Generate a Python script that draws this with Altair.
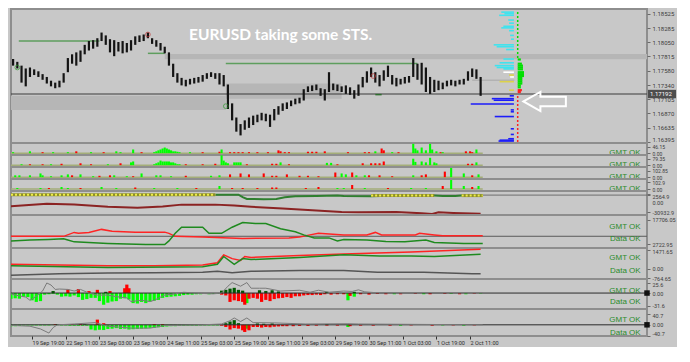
import altair as alt
import pandas as pd

# ======================= DATA =======================
# --- main price panel (2-hour groups of H1 candles, bar index = hour number) ---
candle_bar = list(range(1, 224, 2))
candle_high = [1.17773, 1.17726, 1.17663, 1.17616, 1.17632, 1.17601, 1.17569, 1.17522, 1.17475, 1.17413,
               1.17381, 1.17413, 1.17538, 1.17789, 1.17851, 1.17883, 1.17914, 1.18008, 1.18071, 1.18086,
               1.18118, 1.18212, 1.18165, 1.18102, 1.18086, 1.18055, 1.18071, 1.18039, 1.18086, 1.18149,
               1.18165, 1.18180, 1.18212, 1.18118, 1.18086, 1.18039, 1.17977, 1.17883, 1.17695, 1.17538,
               1.17460, 1.17428, 1.17444, 1.17460, 1.17475, 1.17507, 1.17538, 1.17554, 1.17538, 1.17538,
               1.17507, 1.17350, 1.17037, 1.16802, 1.16693, 1.16755, 1.16802, 1.16833, 1.16849, 1.16880,
               1.16865, 1.16849, 1.16943, 1.16990, 1.17037, 1.17053, 1.17084, 1.17115, 1.17131, 1.17272,
               1.17319, 1.17335, 1.17350, 1.17288, 1.17272, 1.17554, 1.17366, 1.17350, 1.17319, 1.17335,
               1.17303, 1.17256, 1.17350, 1.17475, 1.17569, 1.17632, 1.17554, 1.17507, 1.17585, 1.17663,
               1.17507, 1.17460, 1.17444, 1.17475, 1.17491, 1.17789, 1.17695, 1.17710, 1.17632, 1.17475,
               1.17428, 1.17413, 1.17381, 1.17413, 1.17428, 1.17413, 1.17428, 1.17444, 1.17569, 1.17616,
               1.17601, 1.17475]
candle_low = [1.17663, 1.17616, 1.17381, 1.17319, 1.17475, 1.17507, 1.17475, 1.17428, 1.17366, 1.17319,
              1.17288, 1.17303, 1.17381, 1.17554, 1.17695, 1.17663, 1.17726, 1.17851, 1.17914, 1.17945,
              1.17977, 1.18071, 1.18008, 1.17883, 1.17820, 1.17898, 1.17867, 1.17883, 1.17914, 1.18008,
              1.18055, 1.18071, 1.18118, 1.18024, 1.17977, 1.17914, 1.17867, 1.17663, 1.17475, 1.17381,
              1.17335, 1.17319, 1.17350, 1.17366, 1.17381, 1.17397, 1.17444, 1.17475, 1.17444, 1.17350,
              1.17319, 1.16943, 1.16755, 1.16567, 1.16505, 1.16599, 1.16630, 1.16677, 1.16724, 1.16755,
              1.16740, 1.16646, 1.16755, 1.16849, 1.16912, 1.16943, 1.16990, 1.17021, 1.17037, 1.17084,
              1.17225, 1.17241, 1.17256, 1.17162, 1.17084, 1.17225, 1.17256, 1.17241, 1.17225, 1.17194,
              1.17178, 1.17115, 1.17162, 1.17303, 1.17381, 1.17475, 1.17381, 1.17319, 1.17413, 1.17475,
              1.17350, 1.17319, 1.17350, 1.17366, 1.17381, 1.17475, 1.17428, 1.17350, 1.17225, 1.17194,
              1.17225, 1.17256, 1.17272, 1.17319, 1.17335, 1.17319, 1.17350, 1.17350, 1.17413, 1.17475,
              1.17444, 1.17162]

price_ticks = [1.18525, 1.18285, 1.18050, 1.17815, 1.17580, 1.17340, 1.17105, 1.16870, 1.16635, 1.16395]
current_price = 1.17192

band_start = [0, 73, 102]
band_end = [102, 302, 157]
band_low = [1.16928, 1.17768, 1.17115]
band_high = [1.17162, 1.17855, 1.17366]

level_start = [3.7, 65, 102, 173, 219]
level_end = [42, 73, 193, 176, 239]
level_price = [1.18071, 1.17867, 1.17700, 1.17182, 1.17420]
level_kind = ["swing", "swing", "swing", "small", "poc"]

marker_bar = [3, 102, 65, 172]
marker_price = [1.17632, 1.16990, 1.18180, 1.17491]
marker_kind = ["buy", "buy", "sell", "sell"]

# volume profile (bars extend left from the anchor)
vp_anchor = 238.8
vp_price = [1.18551, 1.18525, 1.18498, 1.18420, 1.18368, 1.18316, 1.18290, 1.18243, 1.18165, 1.18102,
            1.18008, 1.17977, 1.17930, 1.17773, 1.17710, 1.17663, 1.17632, 1.17609,
            1.17554, 1.17475, 1.17507, 1.17397, 1.17256,
            1.17162, 1.17115, 1.17089, 1.17026, 1.16928, 1.16897, 1.16818, 1.16615, 1.16521, 1.16450,
            1.16426, 1.16411]
vp_len = [6, 4.5, 7, 2.7, 2.3, 5, 6, 2.3, 1.8, 1.4,
          9.6, 8.2, 3.7, 5, 6.8, 9.1, 8.2, 5,
          5, 1.8, 2.3, 6.8, 2.3,
          2, 10.5, 9.6, 20.5, 1.5, 1.5, 9.1, 1.5, 1.5, 2.7,
          6.8, 7.3]
vp_kind = list("c" * 18 + "wwyyy" + "b" * 12)

# delta bars (extend right from their anchor)
dp_anchor = 240.6
dp_price = [1.17765, 1.17695, 1.17663, 1.17632, 1.17601, 1.17554, 1.17522, 1.17491, 1.17460, 1.17428,
            1.17397, 1.17366, 1.17335, 1.17303, 1.17256, 1.17225]
dp_len = [1.5, 2, 2.5, 2.5, 2.5, 3, 3, 3, 2.2, 2.2, 2.2, 2.2, 1.5, 1.5, 2, 1.5]
dp_kind = list("g" * 14 + "rr")

dot_bar = [240.6, 240.6]
dot_high = [1.18560, 1.17194]
dot_low = [1.17790, 1.16395]
dot_kind = ["g", "r"]

title_text = "EURUSD taking some STS."
title_bar = 128
title_price = 1.18165
arrow_bar = 253.4
arrow_price = 1.17068

# --- volume-like sub panels ---
v1_bar = [1, 9, 15, 20, 27, 31, 38, 44, 50, 52, 58, 62,
          68, 69, 70, 71, 72, 73, 74, 75, 76, 77, 78, 79, 80,
          85, 91, 99, 100, 104, 106, 108, 110, 113, 117, 122, 127, 128, 130, 132, 141, 143, 145, 149, 160,
          168, 170, 173, 176, 177, 181, 184,
          191, 192, 193, 195, 197, 199, 200, 202, 204, 205, 216, 218, 219, 221]
v1_val = [7, 13, 7, 7, 7, 13, 7, 7, 13, 7, 26, 7,
          7, 13, 20, 26, 33, 40, 33, 26, 20, 13, 13, 10, 7,
          7, 7, 10, 26, 7, 7, 7, 7, 7, 7, 7, 20, 13, 7, 7, 10, 10, 10, 13, 7, 7, 7, 13, 33, 20, 7, 7,
          66, 33, 20, 40, 20, 66, 26, 13, 7, 7, 13, 13, 7, 26]
v1_col = list("ggrggrgrgggr" + "g" * 13 + "grrg" + "r" * 18 + "grrgr" + "ggggggggrg" + "rrrg")

v2_bar = [5, 9, 15, 19, 24, 33, 38, 46, 52, 57, 58,
          68, 69, 70, 71, 72, 73, 74, 75, 76, 77, 78, 79, 80,
          83, 91, 97, 100, 101, 102, 103, 106, 107, 108, 109, 112, 124, 126, 128, 132, 150, 152, 155, 167,
          171, 173, 175, 177,
          191, 192, 195, 197, 199, 201, 202, 217, 219, 221]
v2_val = [11, 11, 11, 11, 17, 23, 11, 11, 23, 34, 45,
          11, 23, 34, 56, 45, 45, 45, 45, 34, 34, 23, 11, 11,
          11, 11, 17, 120, 56, 34, 23, 34, 34, 34, 34, 11, 17, 17, 34, 11, 28, 28, 11, 23, 23, 23, 23, 45,
          79, 40, 45, 34, 90, 34, 23, 17, 17, 34]
v2_col = list("grrgrrrgrgg" + "g" * 13 + "rrr" + "gggggggg" + "rrr" + "g" + "r" + "gg" + "rrrrrr" + "gggggggrrg")

v3_bar = [2, 4, 9, 14, 15, 19, 24, 27, 29, 33, 39, 42, 47, 49, 55, 58, 62, 69, 71, 76,
          83, 95, 99, 104, 109, 113, 120, 124, 126, 131, 137, 141, 146, 154, 157, 159, 162, 164, 168, 170,
          175, 181, 191, 195, 197, 206, 209, 215, 219, 222]
v3_val = [29, 29, 29, 59, 29, 15, 29, 44, 29, 44, 15, 22, 29, 29, 15, 15, 59, 29, 29, 15,
          22, 22, 29, 44, 59, 44, 59, 22, 22, 44, 22, 22, 15, 74, 59, 44, 74, 29, 29, 29,
          29, 15, 29, 29, 44, 88, 147, 59, 29, 44]
v3_col = list("ggggggggrg" + "grrggrgggg" + "rggrrrrrrr" + "rrrrggrggr" + "rrgrrrggrg")

v4_bar = [3, 14, 18, 24, 27, 33, 43, 50, 59, 68, 79, 88, 99, 105, 110, 117, 124, 126, 140, 146,
          155, 158, 162, 168, 179, 190, 197, 205, 209, 215, 219, 222]
v4_val = [15, 15, 15, 29, 15, 15, 29, 15, 22, 15, 15, 15, 44, 15, 15, 15, 22, 22, 15, 29,
          15, 15, 59, 15, 15, 15, 15, 44, 132, 44, 29, 44]
v4_col = list("ggrggrggrg" + "grgrrrrrrr" + "ggrgrggrgg" + "rg")
vol_end = 224

# --- panel 6 ---
p6_seg_start = [0, 171, 214]
p6_seg_end = [97, 201, 224]
p6_seg_val = [800, -900, -900]
p6_grn_bar = [97, 108, 110, 112, 120, 126, 130, 135, 145, 155, 158, 171, 185, 201, 205, 211, 214, 224]
p6_grn_val = [800, 800, -3800, -7000, -7400, -7000, -3800, -2200, -1400, -600, -1400, -2200, -900, -900,
              -1800, -1800, -900, -900]
p6_red_bar = [0, 17, 30, 46, 60, 72, 81, 97, 106, 114, 129, 145, 157, 165, 183, 195, 200, 203, 210, 223]
p6_red_val = [-19800, -15500, -17000, -20900, -22500, -20500, -17100, -17100, -18600, -20900, -24100,
              -27700, -30400, -30900, -30400, -32500, -33800, -30900, -32000, -33500]

# --- panel 7 ---
p7_ref = 7600
p7_red_bar = [0, 18, 25, 30, 32, 37, 43, 48, 59, 73, 75, 78, 91, 110, 132, 137, 142, 146, 158, 169,
              173, 176, 192, 194, 201, 205, 224]
p7_red_val = [7550, 7550, 7550, 9940, 9380, 9940, 11770, 10660, 10100, 10100, 9380, 7550, 7160, 6300,
              6600, 7160, 8440, 9380, 8440, 8440, 9940, 8440, 8440, 9380, 8440, 7880, 7880]
p7_grn_bar = [0, 9, 18, 25, 27, 30, 46, 64, 73, 75, 78, 81, 91, 94, 100, 105, 110, 116, 121, 128,
              135, 139, 144, 151, 155, 158, 169, 178, 187, 197, 201, 215, 224]
p7_grn_val = [4780, 5330, 5670, 6050, 5330, 4220, 3280, 2560, 2560, 4780, 9380, 13100, 13100, 9380,
              9380, 13100, 15880, 15320, 15320, 12160, 10330, 8440, 6610, 6610, 4780, 5670, 5330, 4500,
              4220, 5330, 3830, 3280, 3280]

# --- panel 8 ---
p8_red_bar = [0, 23, 46, 68, 91, 98, 101, 105, 109, 111, 114, 137, 158, 190, 223]
p8_red_val = [346, 294, 221, 221, 294, 464, 1082, 787, 640, 957, 883, 1030, 1140, 1300, 1523]
p8_grn_bar = [0, 46, 91, 98, 101, 106, 110, 114, 137, 158, 175, 190, 201, 223]
p8_grn_val = [221, 96, 147, 346, 957, 346, 787, 714, 883, 1082, 1000, 1000, 950, 1126]
p8_gry_bar = [0, 23, 46, 68, 91, 98, 105, 114, 137, 158, 174, 196, 219, 223]
p8_gry_val = [-515, -390, -346, -316, -272, -199, -316, -199, -147, -147, -272, -272, -390, -390]

# --- panel 9 (histogram) ---
p9_g_bar = list(range(0, 100, 2)) + [112, 160, 163, 182, 196, 209, 216, 223]
p9_g_val = [-14, -13, -14, -9, -10, -18, -22, -20, -4, -3, -2, -4, -9, -8, -9, -6, -10, -17, -15, -12,
            -12, -20, -29, -24, -21, -20, -14, -13, -16, -25, -26, -22, -25, -21, -19, -17, -12, -10, -9, -8,
            -7, -5, -4, -4, -3, -3, -2, -3, -2, -2] + [-25, -18, -9, -3, -3, -2, -3, -2]
p9_r_bar = [27, 32, 37, 41, 47, 54, 55, 56,
            100, 102, 104, 106, 108, 110, 111, 113, 115, 117, 119, 121, 123, 125, 127, 129, 131, 133, 135,
            137, 139, 141, 143, 145, 147, 149, 152, 155, 158, 161, 166, 170, 174, 178, 185, 192, 199, 206,
            213, 220]
p9_r_val = [9, 10, 5, 8, 5, 12, 21, 12,
            -4, -6, -22, -18, -20, -22, -29, -14, -12, -14, -22, -17, -20, -15, -13, -12, -10, -12, -8,
            -8, -6, -5, -5, -4, -5, -3, -4, -3, -3, -7, -3, -4, -2, -3, -3, -2, -3, -2, -3, -2]
p9_d_bar = [20, 45, 100, 102, 104, 106, 108, 110, 118, 121, 124, 127, 150, 163]
p9_d_val = [5, 3, 6, 8, 11, 13, 8, 6, 7, 5, 7, 4, 3, 3]
p9_line_bar = [0, 2, 7, 9, 12, 15, 17, 19, 21, 23, 27, 30, 33, 37, 41, 46, 50, 55, 57, 62,
               66, 68, 73, 78, 82, 87, 91, 96, 100, 103, 105, 109, 112, 114, 118, 121, 128, 137, 142, 146,
               151, 158, 162, 165, 168, 173, 185, 200, 224]
p9_line_val = [-2, -5, -10, -18, -8, 5, 25, 20, 9, 10, 9, 5, 9, 0, -5, -5, -9, -12, -21, -18,
               -21, -18, -5, -2, 2, 0, -1, -2, 0, 17, 26, 17, 26, 12, 12, 12, 5, 7, 2, 7,
               2, 5, 4, 8, 3, 1, 0, 1, 0]

# --- panel 10 (histogram) ---
p10_g_bar = list(range(0, 100, 2)) + [112, 160, 185, 205, 215]
p10_g_val = [-5, -5, -4, -2, -2, -2, -2, -2, -2, -2, -1, -1, -2, -2, -3, -3, -3, -3, -3, -17,
             -20, -18, -19, -15, -14, -12, -15, -14, -17, -16, -15, -14, -13, -11, -11, -9, -8, -6, -5, -5,
             -4, -4, -3, -3, -3, -2, -2, -2, -2, -2] + [-14, -8, -3, -2, -3]
p10_r_bar = [21, 29, 33, 41, 44, 68, 72,
             100, 102, 104, 106, 108, 110, 111, 113, 115, 117, 119, 121, 123, 125, 127, 129, 131,
             134, 137, 141, 145, 150, 155, 161, 166, 172, 180, 190, 200, 210, 220]
p10_r_val = [3, 3, 3, 19, 6, 3, 3,
             -3, -8, -17, -12, -14, -20, -26, -20, -8, -8, -10, -8, -9, -7, -6, -5, -5,
             -5, -4, -4, -3, -3, -3, -5, -3, -3, -3, -2, -3, -2, -2]
p10_d_bar = [22, 35, 102, 104, 106, 108, 117, 120, 124, 150]
p10_d_val = [3, 2, 6, 12, 17, 6, 5, 4, 5, 3]
p10_line_bar = [0, 9, 14, 18, 20, 22, 30, 40, 46, 57, 66, 73, 91, 100, 104, 106, 109, 112, 115, 125,
                140, 160, 165, 224]
p10_line_val = [-2, -5, -15, -30, -10, 0, 3, 8, -5, -12, -12, -3, 0, 3, 15, 25, 12, 25, 8, 7,
                3, 4, 3, 0]

# --- x axis labels ---
xlab_bar = [10, 26, 42, 58, 74, 90, 106, 122, 138, 154, 170, 186, 202, 218]
xlab_text = ["19 Sep 19:00", "22 Sep 11:00", "23 Sep 03:00", "23 Sep 19:00", "24 Sep 11:00",
             "25 Sep 03:00", "25 Sep 19:00", "26 Sep 11:00", "29 Sep 03:00", "29 Sep 19:00",
             "30 Sep 11:00", "1 Oct 03:00", "1 Oct 19:00", "2 Oct 11:00"]
status_bar = 299

# ======================= STYLE / BUILD =======================
W = 636
BG = "#c8c8c8"
FONT = "Roboto, sans-serif"
GREEN_TXT = "#2b8c2b"
HIST_COL = {"g": "#00ff00", "r": "#ff0000", "d": "#005a00"}
sx = alt.Scale(domain=[0, 302], nice=False, zero=False)


def sy(dom):
    return alt.Scale(domain=dom, nice=False, zero=False)


def yaxis(values, fmt=None, baseline=None, offset=None, size=5.5):
    kw = dict(values=values, orient="right", title=None, grid=False, domain=False, ticks=True,
              tickSize=3, tickColor="#6a6a6a", labelFontSize=size, labelColor="#3c3c3c",
              labelFont=FONT, labelPadding=2, labelOverlap=False)
    if fmt:
        kw["format"] = fmt
    else:
        kw["labelExpr"] = "datum.value == 0 ? '0.00' : toString(datum.value)"
    if baseline is not None:
        kw["labelBaseline"] = baseline
    if offset is not None:
        kw["labelOffset"] = offset
    return alt.Axis(**kw)


def X(field="bar", axis=None):
    return alt.X(f"{field}:Q", scale=sx, axis=axis)


def Y(field, dom, ax):
    return alt.Y(f"{field}:Q", scale=sy(dom), axis=ax)


def status(texts, vals, dom, ax, xax=None):
    df = pd.DataFrame({"t": texts, "v": vals, "bar": [status_bar] * len(texts)})
    return alt.Chart(df).mark_text(align="right", baseline="middle", fontSize=8,
                                   font="Liberation Sans, Arial, sans-serif", color=GREEN_TXT,
                                   clip=True).encode(
        x=X(axis=xax), y=Y("v", dom, ax), text="t:N")


def line(bars, vals, dom, color, ax, width=1.5, xax=None):
    df = pd.DataFrame({"bar": bars, "v": vals})
    return alt.Chart(df).mark_line(color=color, strokeWidth=width, clip=True).encode(
        x=X(axis=xax), y=Y("v", dom, ax))


# ---------- Panel 1 : price ----------
PDOM = [1.16379, 1.18603]
pax = yaxis(price_ticks, ".5f", size=6,
            baseline={"condition": {"test": "datum.value < 1.164", "value": "bottom"}, "value": "middle"})
df_band = pd.DataFrame({"x0": band_start, "x1": band_end, "lo": band_low, "hi": band_high})
bands = alt.Chart(df_band).mark_rect(color="#b6b6b6").encode(
    x=X("x0"), x2="x1:Q", y=Y("lo", PDOM, pax), y2="hi:Q")

cur = alt.Chart(pd.DataFrame({"p": [current_price]})).mark_rule(color="#3a3a3a", strokeWidth=1).encode(
    y=Y("p", PDOM, pax))

lvl_col = {"swing": "#5e9e5e", "small": "#2f6f2f", "poc": "#b2b2b2"}
df_lvl = pd.DataFrame({"x0": level_start, "x1": level_end, "p": level_price,
                       "c": [lvl_col[k] for k in level_kind]})
levels = alt.Chart(df_lvl).mark_rule(strokeWidth=1.5).encode(
    x=X("x0"), x2="x1:Q", y=Y("p", PDOM, pax), color=alt.Color("c:N", scale=None))

df_c = pd.DataFrame({"bar": candle_bar, "hi": candle_high, "lo": candle_low})
candles = alt.Chart(df_c).mark_rule(color="#141414", strokeWidth=2.2).encode(
    x=X(), y=Y("lo", PDOM, pax), y2="hi:Q")

mk_col = {"buy": "#2e9e2e", "sell": "#c03030"}
df_mk = pd.DataFrame({"bar": marker_bar, "p": marker_price, "c": [mk_col[k] for k in marker_kind]})
markers = alt.Chart(df_mk).mark_point(shape="circle", size=22, filled=False, strokeWidth=1).encode(
    x=X(), y=Y("p", PDOM, pax), color=alt.Color("c:N", scale=None))

vp_col = {"c": "#3fe3ee", "w": "#ffffff", "y": "#ddd24a", "b": "#1d1dfa"}
df_vp = pd.DataFrame({"x0": [vp_anchor - l for l in vp_len], "x1": [vp_anchor] * len(vp_len),
                      "p": vp_price, "c": [vp_col[k] for k in vp_kind]})
profile = alt.Chart(df_vp).mark_rule(strokeWidth=1.6).encode(
    x=X("x0"), x2="x1:Q", y=Y("p", PDOM, pax), color=alt.Color("c:N", scale=None))

dp_col = {"g": "#00e000", "r": "#ff2020"}
df_dp = pd.DataFrame({"x0": [dp_anchor] * len(dp_len), "x1": [dp_anchor + l for l in dp_len],
                      "p": dp_price, "c": [dp_col[k] for k in dp_kind]})
delta = alt.Chart(df_dp).mark_rule(strokeWidth=2.2).encode(
    x=X("x0"), x2="x1:Q", y=Y("p", PDOM, pax), color=alt.Color("c:N", scale=None))

df_dot = pd.DataFrame({"bar": dot_bar, "lo": dot_low, "hi": dot_high, "c": [dp_col[k] for k in dot_kind]})
dots = alt.Chart(df_dot).mark_rule(strokeWidth=1.5, strokeDash=[2, 2]).encode(
    x=X(), y=Y("lo", PDOM, pax), y2="hi:Q", color=alt.Color("c:N", scale=None))

arrow_path = "M -1 0 L -0.2 -0.45 L -0.2 -0.22 L 1 -0.22 L 1 0.22 L -0.2 0.22 L -0.2 0.45 Z"
arrow = alt.Chart(pd.DataFrame({"bar": [arrow_bar], "p": [arrow_price]})).mark_point(
    shape=arrow_path, size=1800, filled=False, color="white", strokeWidth=2, opacity=1).encode(
    x=X(), y=Y("p", PDOM, pax))

title = alt.Chart(pd.DataFrame({"bar": [title_bar], "p": [title_price], "t": [title_text]})).mark_text(
    font="Lato", fontWeight="bold", fontSize=15.5, color="white", align="center", baseline="middle").encode(
    x=X(), y=Y("p", PDOM, pax), text="t:N")

tag_path = "M -1 -0.3 L 1 -0.3 L 1 0.3 L -1 0.3 Z"
df_tag = pd.DataFrame({"p": [current_price]})
tag_box = alt.Chart(df_tag).mark_point(shape=tag_path, size=784, filled=True, color="#4e4e4e",
                                       opacity=1).encode(
    x=alt.value(W + 15), y=Y("p", PDOM, pax))
tag_txt = alt.Chart(df_tag).mark_text(align="left", baseline="middle", fontSize=6, font=FONT,
                                      color="white").encode(
    x=alt.value(W + 3), y=Y("p", PDOM, pax), text=alt.Text("p:Q", format=".5f"))

p1 = alt.layer(bands, cur, levels, candles, markers, profile, delta, dots, arrow, title,
               tag_box, tag_txt).properties(width=W, height=134)


# ---------- Panels 2-5 : volume-like histograms ----------
def vol_panel(bars, vals, cols, dom, ticks, h):
    span = dom[1] - dom[0]
    top_pos = (dom[1] - ticks[0]) / span * h
    zero_pos = dom[1] / span * h
    ax = yaxis(ticks, size=5,
               baseline={"condition": {"test": "datum.value > 0", "value": "top"}, "value": "middle"},
               offset={"condition": {"test": "datum.value > 0", "value": round(1.2 - top_pos, 2)},
                       "value": round(h - 1.8 - zero_pos, 2)})
    df = pd.DataFrame({"bar": bars, "v": vals, "c": [HIST_COL[c] for c in cols]})
    base = alt.Chart(pd.DataFrame({"x0": [0], "x1": [vol_end], "v": [0]})).mark_rule(
        color="#a3ad78", strokeWidth=1.5).encode(x=X("x0"), x2="x1:Q", y=Y("v", dom, ax))
    hist = alt.Chart(df).mark_rule(strokeWidth=2.1, clip=True).encode(
        x=X(), y=Y("v", dom, ax), y2=alt.datum(0), color=alt.Color("c:N", scale=None))
    return alt.layer(base, hist, status(["GMT OK"], [0], dom, ax)).properties(width=W, height=h)


p2 = vol_panel(v1_bar, v1_val, v1_col, [-13, 72], [46.15, 0], 12)
p3 = vol_panel(v2_bar, v2_val, v2_col, [-22.7, 124.6], [79.35, 0], 12)
p4 = vol_panel(v3_bar, v3_val, v3_col, [-29.4, 161.6], [102.85, 0], 12)
p5 = vol_panel(v4_bar, v4_val, v4_col, [-29.4, 147], [102.9, 0], 12)

# ---------- Panel 6 ----------
D6 = [-35718, 7350]
ax6 = yaxis([2564.9, 0, -30932.9],
            baseline={"condition": {"test": "datum.value > -1", "value": "top"}, "value": "middle"},
            offset={"condition": [{"test": "datum.value == 0", "value": 5.5},
                                  {"test": "datum.value > 1", "value": 0.6}], "value": 0})
zero6 = alt.Chart(pd.DataFrame({"v": [0]})).mark_rule(color="#6e6e6e", strokeWidth=1).encode(
    y=Y("v", D6, ax6))
df_seg = pd.DataFrame({"x0": p6_seg_start, "x1": p6_seg_end, "v": p6_seg_val})
seg_base = alt.Chart(df_seg).mark_rule(color="#8f8f2a", strokeWidth=3).encode(
    x=X("x0"), x2="x1:Q", y=Y("v", D6, ax6))
seg_dash = alt.Chart(df_seg).mark_rule(color="#eded4a", strokeWidth=2, strokeDash=[2, 2]).encode(
    x=X("x0"), x2="x1:Q", y=Y("v", D6, ax6))
p6 = alt.layer(zero6, line(p6_grn_bar, p6_grn_val, D6, "#2f7f2f", ax6, 2), seg_base, seg_dash,
               line(p6_red_bar, p6_red_val, D6, "#8b2323", ax6, 2)).properties(width=W, height=24)

# ---------- Panel 7 ----------
D7 = [503, 20480]
ax7 = yaxis([17706.05, 2722.95])
ref7 = alt.Chart(pd.DataFrame({"v": [p7_ref]})).mark_rule(color="#5c5c5c", strokeWidth=1).encode(
    y=Y("v", D7, ax7))
p7 = alt.layer(ref7, line(p7_red_bar, p7_red_val, D7, "#ff2424", ax7),
               line(p7_grn_bar, p7_grn_val, D7, "#1f8a1f", ax7),
               status(["GMT OK", "Data OK"], [13267, 6053], D7, ax7)).properties(width=W, height=33)

# ---------- Panel 8 ----------
D8 = [-809, 1619]
ax8 = yaxis([1471.65, 0, -764.65],
            baseline={"condition": {"test": "datum.value > 1000", "value": "top"}, "value": "middle"})
p8 = alt.layer(line(p8_gry_bar, p8_gry_val, D8, "#555555", ax8),
               line(p8_red_bar, p8_red_val, D8, "#ff2424", ax8),
               line(p8_grn_bar, p8_grn_val, D8, "#1f8a1f", ax8),
               status(["GMT OK", "Data OK"], [809, -147], D8, ax8)).properties(width=W, height=31)


# ---------- Panels 9-10 : histograms ----------
def hist_panel(gb, gv, rb, rv, db, dv, lb, lv, dom, ticks, h, texts_v, xax=None):
    ax = yaxis(ticks, baseline={"condition": [{"test": "datum.value > 20", "value": "top"},
                                              {"test": "datum.value < -35", "value": "bottom"}],
                                "value": "middle"})
    rows = ([(b, v, HIST_COL["g"]) for b, v in zip(gb, gv)] +
            [(b, v, HIST_COL["r"]) for b, v in zip(rb, rv)] +
            [(b, v, HIST_COL["d"]) for b, v in zip(db, dv)])
    df = pd.DataFrame(rows, columns=["bar", "v", "c"])
    hist = alt.Chart(df).mark_rule(strokeWidth=3.2, clip=True).encode(
        x=X(axis=xax), y=Y("v", dom, ax), y2=alt.datum(0), color=alt.Color("c:N", scale=None))
    zero = alt.Chart(pd.DataFrame({"v": [0]})).mark_rule(color="#2a2a2a", strokeWidth=1).encode(
        y=Y("v", dom, ax))
    sq = alt.Chart(pd.DataFrame({"bar": [302], "v": [0]})).mark_square(size=30, color="#111111",
                                                                       opacity=1).encode(
        x=X(axis=xax), y=Y("v", dom, ax))
    return alt.layer(hist, zero, line(lb, lv, dom, "#7a7a7a", ax, 1, xax), sq,
                     status(["GMT OK", "Data OK"], texts_v, dom, ax, xax)).properties(width=W, height=h)


xexpr = ""
for b, t in zip(xlab_bar, xlab_text):
    xexpr += f"datum.value == {b} ? '{t}' : "
xexpr += "''"
x_axis = alt.Axis(values=xlab_bar, labelExpr=xexpr, orient="bottom", title=None, grid=False,
                  domain=False, ticks=True, tickSize=3, tickColor="#333333", labelFontSize=5.5,
                  labelColor="#2a2a2a", labelFont=FONT, labelAlign="left", labelBaseline="top",
                  labelPadding=1, labelFlush=False, labelOverlap=False)

p9 = hist_panel(p9_g_bar, p9_g_val, p9_r_bar, p9_r_val, p9_d_bar, p9_d_val, p9_line_bar, p9_line_val,
                [-39.6, 34.9], [25.6, 0, -31.6], 30, [4.7, -23])
p10 = hist_panel(p10_g_bar, p10_g_val, p10_r_bar, p10_r_val, p10_d_bar, p10_d_val, p10_line_bar,
                 p10_line_val, [-40.7, 57.6], [40.7, 0, -40.7], 27, [17, -30.5], xax=x_axis)

chart = alt.vconcat(p1, p2, p3, p4, p5, p6, p7, p8, p9, p10, spacing=0, bounds="flush").properties(
    padding=0, background=BG).configure_view(stroke="#8e8e8e", strokeWidth=2)

chart.save("out.html", embed_options={"renderer": "svg", "actions": False})
